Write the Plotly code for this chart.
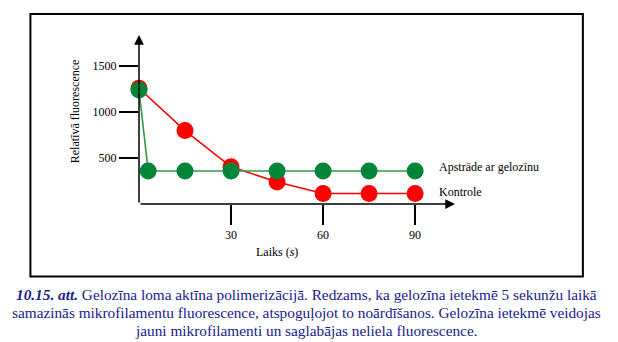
import plotly.graph_objects as go

# Time points (s) and relative fluorescence values
time_control = [0, 15, 30, 45, 60, 75, 90]
fluor_control = [1260, 800, 405, 240, 115, 115, 115]

time_gelsolin = [0, 3, 15, 30, 45, 60, 75, 90]
fluor_gelsolin = [1240, 360, 360, 360, 360, 360, 360, 360]

x_ticks = [30, 60, 90]
y_ticks = [500, 1000, 1500]

label_gelsolin = "Apstrāde ar gelozīnu"
label_control = "Kontrole"
x_title = "Laiks (<i>s</i>)"
y_title = "Relatīvā fluorescence"
caption_lines = [
    "<b><i>10.15. att.</i></b> Gelozīna loma aktīna polimerizācijā. Redzams, ka gelozīna ietekmē 5 sekunžu laikā",
    "samazinās mikrofilamentu fluorescence, atspoguļojot to noārdīšanos. Gelozīna ietekmē veidojas",
    "jauni mikrofilamenti un saglabājas neliela fluorescence.",
]

# Canvas and plot-area geometry (pixels)
W, H = 618, 342
ML, MR, MT, MB = 138.7, 163, 35, 137.7
PW, PH = W - ML - MR, H - MT - MB
X_MAX, Y_MAX = 103, 1840


def px(x):
    return (x - ML) / PW


def py(y):
    return (H - MB - y) / PH


SERIF = "'Times New Roman', 'Liberation Serif', Tinos, serif"
GREEN = "#008539"
GREEN_LINE = "#2f9a48"
RED = "#ff0000"
NAVY = "#20208a"

fig = go.Figure()
fig.add_trace(go.Scatter(
    x=time_control, y=fluor_control, mode="lines+markers",
    line=dict(color=RED, width=1.6),
    marker=dict(color=RED, size=17),
    name=label_control, cliponaxis=False,
))
fig.add_trace(go.Scatter(
    x=time_gelsolin, y=fluor_gelsolin, mode="lines+markers",
    line=dict(color=GREEN_LINE, width=1.6),
    marker=dict(color=GREEN, size=17),
    name=label_gelsolin, cliponaxis=False,
))

annotations = []
# Axis arrows
annotations.append(dict(x=0, y=Y_MAX, xref="x", yref="y", ax=0, ay=0, axref="x", ayref="y",
                        showarrow=True, arrowhead=2, arrowsize=1.3, arrowwidth=1.5, arrowcolor="black", text=""))
annotations.append(dict(x=X_MAX, y=0, xref="x", yref="y", ax=0, ay=0, axref="x", ayref="y",
                        showarrow=True, arrowhead=2, arrowsize=1.3, arrowwidth=1.5, arrowcolor="black", text=""))
# Series labels
annotations.append(dict(x=time_gelsolin[-1], y=fluor_gelsolin[-1], xref="x", yref="y",
                        xshift=22, yshift=4, xanchor="left", yanchor="middle", showarrow=False,
                        text=label_gelsolin, font=dict(family=SERIF, size=12, color="black")))
annotations.append(dict(x=time_control[-1], y=fluor_control[-1], xref="x", yref="y",
                        xshift=22, yshift=1, xanchor="left", yanchor="middle", showarrow=False,
                        text=label_control, font=dict(family=SERIF, size=12, color="black")))
# Axis titles
annotations.append(dict(x=45, y=0, xref="x", yref="y", yshift=-48, xanchor="center", yanchor="middle",
                        showarrow=False, text=x_title, font=dict(family=SERIF, size=12, color="black")))
annotations.append(dict(x=px(75), y=py(111), xref="paper", yref="paper", textangle=-90,
                        xanchor="center", yanchor="middle", showarrow=False, text=y_title,
                        font=dict(family=SERIF, size=12, color="black")))
# Caption
for i, line in enumerate(caption_lines):
    annotations.append(dict(x=px(306), y=py(295 + 18 * i), xref="paper", yref="paper",
                            xanchor="center", yanchor="middle", showarrow=False, text=line,
                            font=dict(family=SERIF, size=15.3, color=NAVY)))

shapes = [dict(type="rect", xref="paper", yref="paper",
               x0=px(30), x1=px(583), y0=py(277), y1=py(14),
               line=dict(color="black", width=2), fillcolor="rgba(0,0,0,0)", layer="below")]

fig.update_layout(
    width=W, height=H,
    margin=dict(l=ML, r=MR, t=MT, b=MB),
    paper_bgcolor="white", plot_bgcolor="white",
    showlegend=False,
    font=dict(family=SERIF),
    annotations=annotations,
    shapes=shapes,
    xaxis=dict(range=[0, X_MAX], tickvals=x_ticks, ticks="outside", ticklen=20, tickwidth=2,
               tickcolor="black", showgrid=False, zeroline=False, showline=False,
               tickfont=dict(family=SERIF, size=12, color="black")),
    yaxis=dict(range=[0, Y_MAX], tickvals=y_ticks, ticks="outside", ticklen=19, tickwidth=2,
               tickcolor="black", showgrid=False, zeroline=False, showline=False,
               tickfont=dict(family=SERIF, size=12, color="black")),
)

fig.write_html("out.html")
